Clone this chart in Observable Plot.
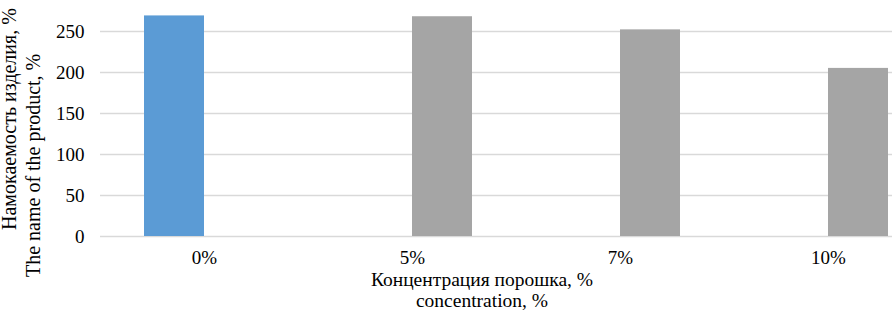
<!DOCTYPE html>
<html><head><meta charset="utf-8">
<script src="https://cdn.jsdelivr.net/npm/d3@7"></script>
<script src="https://cdn.jsdelivr.net/npm/@observablehq/plot@0.6"></script>
<style>
html,body{margin:0;padding:0;background:#fff;overflow:hidden}
#chart svg{display:block}
</style>
</head><body><div id="chart"></div>
<script>
const categories = ["0%", "5%", "7%", "10%"];
const seriesNames = ["Ряд1", "Ряд2"];
const series1Values = [269, null, null, null];
const series2Values = [null, 268, 252, 205];
const seriesColors = ["#5b9bd5", "#a5a5a5"];
const yTicks = [0, 50, 100, 150, 200, 250];
const yTitleLines = ["Намокаемость изделия, %", "The name of the product, %"];
const xTitleLines = ["Концентрация порошка, %", "concentration, %"];

const rows = [];
categories.forEach((c, i) => {
  if (series1Values[i] != null) rows.push({cat: c, series: seriesNames[0], value: series1Values[i]});
  if (series2Values[i] != null) rows.push({cat: c, series: seriesNames[1], value: series2Values[i]});
});

const font = "Liberation Serif";

const chart = Plot.plot({
  width: 892,
  height: 312,
  marginLeft: 100,
  marginRight: 0,
  marginTop: 0,
  marginBottom: 76,
  style: {fontSize: "19px", color: "#000", background: "#fff", overflow: "hidden"},
  fx: {domain: categories, range: [100, 932], padding: 0, label: null, axis: "bottom", tickSize: 0, tickPadding: 14},
  x: {domain: seriesNames, paddingInner: 0, paddingOuter: 0.733, axis: null},
  y: {domain: [0, 300], range: [236, -10], ticks: yTicks, tickSize: 0, tickPadding: 16, label: null},
  color: {domain: seriesNames, range: seriesColors},
  marks: [
    Plot.ruleY(yTicks, {stroke: "#d9d9d9", strokeWidth: 1.3}),
    Plot.barY(rows, {fx: "cat", x: "series", y: "value", fill: "series"})
  ]
});

const svg = d3.select(chart);
svg.attr("font-family", font).style("font-family", font);

const yPos = [{x: 16, y: 230}, {x: 40, y: 277}];
yTitleLines.forEach((t, i) => {
  svg.append("text")
    .attr("transform", `translate(${yPos[i].x},${yPos[i].y}) rotate(-90)`)
    .attr("text-anchor", "start")
    .attr("font-size", 20)
    .text(t);
});
const xPos = [{x: 482, y: 286}, {x: 482, y: 307}];
xTitleLines.forEach((t, i) => {
  svg.append("text")
    .attr("x", xPos[i].x).attr("y", xPos[i].y)
    .attr("text-anchor", "middle")
    .attr("font-size", 19.5)
    .text(t);
});
svg.selectAll("text").attr("fill", "#000").attr("font-family", font).style("font-family", font);

document.getElementById("chart").append(chart);
</script>
</body></html>
